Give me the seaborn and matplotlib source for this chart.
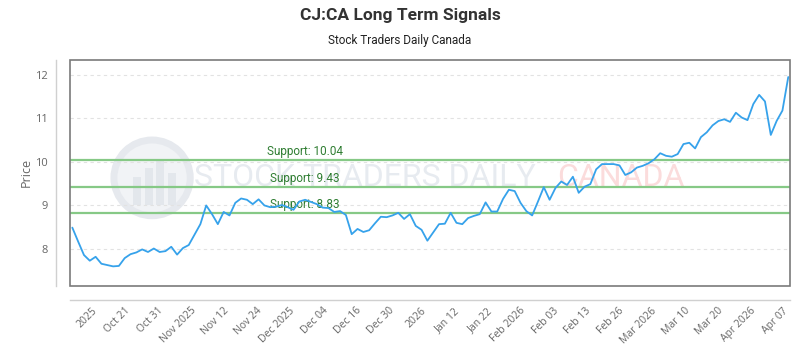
#!/usr/bin/env python3
"""CJ:CA long term signals: daily price line with three support levels."""

import matplotlib

matplotlib.use("Agg")

import matplotlib.pyplot as plt
import matplotlib.patches as mpatches
import numpy as np
import seaborn as sns

# ── Data ──────────────────────────────────────────────────────────────────

PRICES = [
    8.49, 8.17, 7.86, 7.73, 7.82, 7.66, 7.63, 7.60, 7.61, 7.79,
    7.88, 7.92, 7.99, 7.93, 8.01, 7.93, 7.95, 8.05, 7.87, 8.02,
    8.09, 8.33, 8.57, 9.00, 8.80, 8.57, 8.85, 8.77, 9.06, 9.16,
    9.13, 9.03, 9.14, 9.00, 8.96, 8.97, 9.01, 8.96, 8.90, 9.09,
    9.13, 9.08, 9.03, 8.95, 8.94, 8.85, 8.87, 8.78, 8.34, 8.46,
    8.39, 8.43, 8.59, 8.74, 8.73, 8.77, 8.83, 8.69, 8.80, 8.53,
    8.44, 8.19, 8.38, 8.57, 8.58, 8.83, 8.60, 8.57, 8.71, 8.76,
    8.80, 9.07, 8.86, 8.86, 9.15, 9.36, 9.33, 9.06, 8.87, 8.77,
    9.09, 9.42, 9.13, 9.40, 9.55, 9.47, 9.66, 9.29, 9.43, 9.49,
    9.83, 9.95, 9.95, 9.95, 9.92, 9.70, 9.76, 9.87, 9.91, 9.97,
    10.06, 10.20, 10.14, 10.12, 10.18, 10.41, 10.44, 10.31, 10.57, 10.68,
    10.84, 10.94, 10.98, 10.92, 11.13, 11.02, 10.96, 11.33, 11.54, 11.39,
    10.62, 10.94, 11.18, 11.95,
]

TICK_LABELS = [
    "2025", "Oct 21", "Oct 31", "Nov 2025", "Nov 12", "Nov 24", "Dec 2025",
    "Dec 04", "Dec 16", "Dec 30", "2026", "Jan 12", "Jan 22", "Feb 2026",
    "Feb 03", "Feb 13", "Feb 26", "Mar 2026", "Mar 10", "Mar 20",
    "Apr 2026", "Apr 07",
]

SUPPORT_LEVELS = [10.04, 9.43, 8.83]
Y_TICKS = [8, 9, 10, 11, 12]

TITLE = "CJ:CA Long Term Signals"
SUBTITLE = "Stock Traders Daily Canada"

# ── Style ─────────────────────────────────────────────────────────────────

LINE_COLOR = "#36a2eb"
SUPPORT_COLOR = "#86c986"
SUPPORT_TEXT = "#2f7d32"
TEXT_GRAY = "#666666"

sns.set_style("white")
plt.rcParams["font.family"] = ["Open Sans", "DejaVu Sans"]
NARROW = ["Liberation Sans Narrow", "Roboto", "DejaVu Sans"]

fig = plt.figure(figsize=(8, 3.5), dpi=100)
ax = fig.add_axes([0.0875, 0.183, 0.9, 0.646])

# Offset light axis lines (set first: moving a spine resets the ticks)
for side in ["top", "right"]:
    ax.spines[side].set_visible(False)
for side in ["left", "bottom"]:
    ax.spines[side].set_position(("outward", 10))
    ax.spines[side].set_color("#d0d0d0")
    ax.spines[side].set_linewidth(1)

x = np.arange(len(PRICES))

# Watermark (logo ring + text), drawn behind everything
ax.add_patch(mpatches.Ellipse((0.114, 0.478), 0.106, 0.335, transform=ax.transAxes,
                              facecolor="#f1f3f6", edgecolor="#e6e9ee", lw=5, zorder=0))
for bx, bh in [(0.088, 0.12), (0.104, 0.16), (0.120, 0.20), (0.136, 0.14)]:
    ax.add_patch(mpatches.Rectangle((bx, 0.36), 0.011, bh, transform=ax.transAxes,
                                    facecolor="#e3e7ec", edgecolor="none", zorder=0))
ax.text(0.41, 0.478, "STOCK TRADERS DAILY", transform=ax.transAxes, ha="center",
        va="center", fontsize=23, color="#e7ebf0", family=NARROW, zorder=0)
ax.text(0.765, 0.478, "CANADA", transform=ax.transAxes, ha="center", va="center",
        fontsize=23, color="#fbdcdc", family=NARROW, zorder=0)

# Horizontal dashed grid at integer prices
for yv in Y_TICKS:
    ax.axhline(yv, color="#e2e2e2", lw=0.8, ls=(0, (3, 3)), zorder=1)

# Support lines with labels
for level in SUPPORT_LEVELS:
    ax.axhline(level, color=SUPPORT_COLOR, lw=1.6, zorder=2)
    ax.text(0.326, level + 0.04, f"Support: {level:.2f}",
            transform=ax.get_yaxis_transform(), ha="center", va="bottom",
            fontsize=8.5, color=SUPPORT_TEXT, family=NARROW, zorder=3)

sns.lineplot(x=x, y=PRICES, color=LINE_COLOR, linewidth=1.3, ax=ax, zorder=4)

ax.set_xlim(-0.4, 123.3)
ax.set_ylim(7.15, 12.345)

ax.set_yticks(Y_TICKS)
ax.set_yticklabels([str(v) for v in Y_TICKS])
tick_pos = np.linspace(3.4, 122.1, len(TICK_LABELS))
ax.set_xticks(tick_pos)
ax.set_xticklabels(TICK_LABELS)
ax.tick_params(axis="x", length=0, pad=4, labelsize=7.5, labelcolor=TEXT_GRAY,
               labelrotation=45)
ax.tick_params(axis="y", length=0, pad=6, labelsize=8, labelcolor=TEXT_GRAY)
for lab in ax.get_xticklabels():
    lab.set_horizontalalignment("right")
    lab.set_verticalalignment("top")
    lab.set_rotation_mode("anchor")

ax.set_xlabel("")
ax.set_ylabel("Price", fontsize=9, color=TEXT_GRAY, labelpad=2)

# Dark plot frame
ax.add_patch(mpatches.Rectangle((0, 0), 1, 1, transform=ax.transAxes, fill=False,
                                edgecolor="#7a7a7a", lw=1.2, zorder=5, clip_on=False))

fig.text(0.5, 0.955, TITLE, ha="center", va="center", fontsize=12.5,
         fontweight="bold", color="#333333", family=NARROW)
fig.text(0.5, 0.885, SUBTITLE, ha="center", va="center", fontsize=8.5,
         color="#222222", family=NARROW)

fig.savefig("out.png", dpi=100)
plt.close(fig)
